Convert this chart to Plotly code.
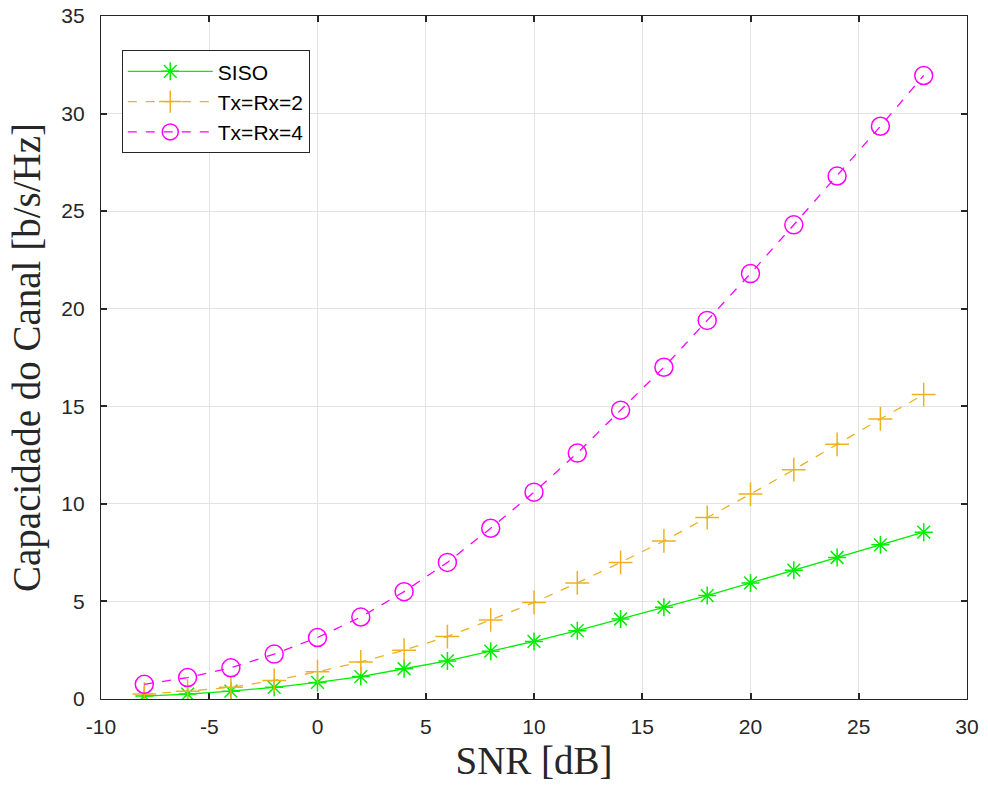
import plotly.graph_objects as go

snr = [-8, -6, -4, -2, 0, 2, 4, 6, 8, 10, 12, 14, 16, 18, 20, 22, 24, 26, 28]
siso = [0.15, 0.25, 0.4, 0.6, 0.85, 1.15, 1.55, 1.95, 2.45, 2.95, 3.5, 4.1, 4.7, 5.3, 5.95, 6.6, 7.25, 7.9, 8.55]
mimo2 = [0.25, 0.4, 0.6, 0.95, 1.4, 1.9, 2.5, 3.2, 4.05, 4.95, 5.95, 7.0, 8.1, 9.3, 10.5, 11.75, 13.05, 14.35, 15.6]
mimo4 = [0.75, 1.1, 1.6, 2.3, 3.15, 4.2, 5.5, 7.0, 8.75, 10.6, 12.6, 14.8, 17.0, 19.4, 21.8, 24.3, 26.8, 29.35, 31.95]

x_ticks = [-10, -5, 0, 5, 10, 15, 20, 25, 30]
x_labels = ["-10", "-5", "0", "5", "10", "15", "20", "25", "30"]
y_ticks = [0, 5, 10, 15, 20, 25, 30, 35]
y_labels = ["0", "5", "10", "15", "20", "25", "30", "35"]

fig = go.Figure()
fig.add_trace(go.Scatter(
    x=snr, y=siso, name="SISO", mode="lines+markers",
    line=dict(color="#00EE00", width=1.3),
    marker=dict(symbol="asterisk-open", size=15, line=dict(color="#00EE00", width=1.5)),
))
fig.add_trace(go.Scatter(
    x=snr, y=mimo2, name="Tx=Rx=2", mode="lines+markers",
    line=dict(color="#EDB120", width=1.3, dash="dash"),
    marker=dict(symbol="cross-thin-open", size=17, line=dict(color="#EDB120", width=1.5)),
))
fig.add_trace(go.Scatter(
    x=snr, y=mimo4, name="Tx=Rx=4", mode="lines+markers",
    line=dict(color="#FF00FF", width=1.3, dash="dash"),
    marker=dict(symbol="circle-open", size=18, line=dict(color="#FF00FF", width=1.5)),
))

axis_common = dict(
    showgrid=True, gridcolor="#E3E3E3", gridwidth=1,
    showline=True, linecolor="#262626", linewidth=1.2, mirror="ticks",
    ticks="inside", ticklen=6, tickwidth=1.5, tickcolor="#262626",
    tickfont=dict(family="Liberation Sans, Arial", size=21, color="#262626"),
    zeroline=False, automargin=False,
)
title_font = dict(family="Liberation Serif, Times New Roman", size=39, color="#262626")

fig.update_layout(
    width=988, height=789,
    paper_bgcolor="white", plot_bgcolor="white",
    margin=dict(l=101, r=21, t=16, b=90),
    xaxis=dict(range=[-10, 30], tickvals=x_ticks, ticktext=x_labels, ticklabelstandoff=9,
               title=dict(text="SNR [dB]", font=title_font, standoff=9),
               **axis_common),
    yaxis=dict(range=[0, 35], tickvals=y_ticks, ticktext=y_labels, ticklabelstandoff=11,
               title=dict(text="Capacidade do Canal [b/s/Hz]", font=title_font, standoff=8),
               **axis_common),
    legend=dict(x=0.024, y=0.95, xanchor="left", yanchor="top",
                bgcolor="white", bordercolor="#262626", borderwidth=1,
                font=dict(family="Liberation Sans, Arial", size=21, color="black"),
                itemwidth=85, tracegroupgap=5),
    showlegend=True,
)

fig.write_html("out.html", config={"displayModeBar": False},
               post_script="document.body.style.margin='0';document.body.style.overflow='hidden';")
